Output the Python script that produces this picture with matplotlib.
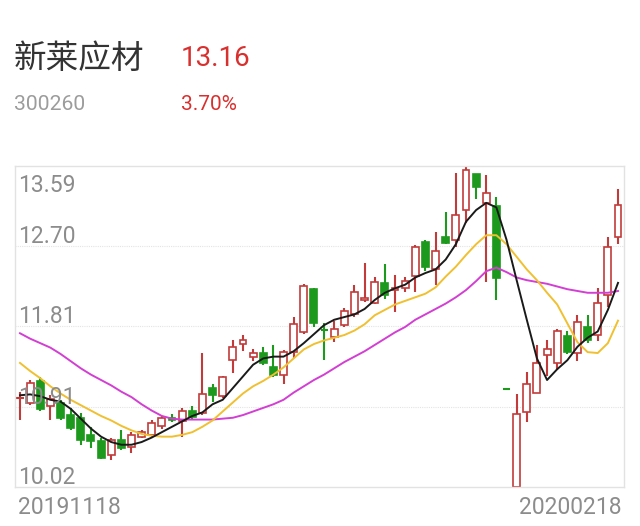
import matplotlib
matplotlib.use('Agg')
import matplotlib.pyplot as plt
import numpy as np

# daily K-line, 20191118 .. 20200218 (60 trading days)
opens = [11.00, 10.95, 11.20, 10.92, 10.95, 10.82, 10.79, 10.60, 10.53, 10.38,
         10.54, 10.46, 10.58, 10.60, 10.70, 10.79, 10.75, 10.86, 10.84, 11.12,
         11.03, 11.43, 11.61, 11.47, 11.51, 11.35, 11.27, 11.52, 11.74, 12.22,
         11.78, 11.69, 11.82, 11.94, 12.10, 12.07, 12.29, 12.21, 12.23, 12.37,
         12.75, 12.44, 12.80, 12.77, 13.10, 13.50, 13.18, 13.15, 11.11, 10.02,
         10.85, 11.07, 11.49, 11.40, 11.70, 11.51, 11.80, 11.71, 12.16, 12.80]
highs = [11.08, 11.21, 11.24, 11.04, 10.99, 10.90, 10.84, 10.69, 10.56, 10.56,
         10.65, 10.63, 10.65, 10.76, 10.81, 10.83, 10.90, 10.92, 11.51, 11.16,
         11.26, 11.65, 11.71, 11.56, 11.58, 11.60, 11.54, 11.91, 12.28, 12.23,
         11.84, 11.87, 12.01, 12.27, 12.51, 12.36, 12.50, 12.38, 12.35, 12.71,
         12.77, 12.86, 13.08, 13.51, 13.60, 13.50, 13.49, 13.25, 11.11, 11.05,
         11.30, 11.60, 11.65, 11.78, 11.75, 11.93, 11.93, 12.23, 12.80, 13.33]
lows = [10.76, 10.93, 10.87, 10.76, 10.77, 10.65, 10.49, 10.45, 10.33, 10.32,
        10.43, 10.40, 10.56, 10.58, 10.66, 10.74, 10.58, 10.78, 10.82, 10.97,
        11.01, 11.29, 11.53, 11.42, 11.38, 11.24, 11.16, 11.45, 11.72, 11.80,
        11.43, 11.63, 11.80, 11.91, 12.08, 12.05, 12.11, 11.97, 12.19, 12.19,
        12.42, 12.27, 12.72, 12.69, 12.96, 13.22, 12.30, 12.10, 11.11, 10.02,
        10.74, 11.06, 11.25, 11.32, 11.50, 11.42, 11.62, 11.64, 12.02, 12.72]
closes = [11.01, 11.18, 10.89, 11.00, 10.79, 10.68, 10.54, 10.53, 10.34, 10.54,
          10.45, 10.60, 10.63, 10.73, 10.79, 10.76, 10.87, 10.80, 11.05, 11.04,
          11.24, 11.58, 11.66, 11.51, 11.40, 11.27, 11.52, 11.83, 12.26, 11.84,
          11.77, 11.78, 11.98, 12.19, 12.12, 12.30, 12.16, 12.23, 12.31, 12.69,
          12.47, 12.64, 12.73, 13.05, 13.55, 13.36, 13.29, 12.34, 11.11, 10.83,
          11.17, 11.40, 11.55, 11.75, 11.52, 11.86, 11.66, 12.07, 12.69, 13.16]

# moving averages as drawn on the chart
ma5 = [11.04, 11.05, 11.03, 10.99, 10.97, 10.89, 10.78, 10.67, 10.58, 10.52,
       10.49, 10.49, 10.52, 10.57, 10.63, 10.69, 10.75, 10.81, 10.85, 10.94,
       10.99, 11.12, 11.25, 11.38, 11.45, 11.47, 11.47, 11.53, 11.62, 11.72,
       11.82, 11.88, 11.91, 11.94, 12.00, 12.10, 12.18, 12.23, 12.27, 12.35,
       12.40, 12.44, 12.55, 12.72, 12.97, 13.10, 13.18, 13.13, 12.77, 12.32,
       11.88, 11.45, 11.21, 11.33, 11.43, 11.58, 11.68, 11.75, 11.99, 12.29]
ma10 = [11.40, 11.31, 11.23, 11.14, 11.06, 10.99, 10.93, 10.87, 10.81, 10.76,
        10.70, 10.65, 10.61, 10.59, 10.58, 10.58, 10.60, 10.63, 10.69, 10.76,
        10.86, 10.96, 11.06, 11.14, 11.20, 11.27, 11.35, 11.45, 11.55, 11.61,
        11.65, 11.68, 11.71, 11.76, 11.83, 11.93, 11.99, 12.05, 12.09, 12.13,
        12.17, 12.24, 12.36, 12.47, 12.60, 12.72, 12.82, 12.82, 12.72, 12.58,
        12.44, 12.32, 12.18, 12.05, 11.84, 11.63, 11.52, 11.51, 11.62, 11.87]
ma20 = [11.73, 11.67, 11.62, 11.57, 11.50, 11.42, 11.34, 11.27, 11.21, 11.15,
        11.08, 11.02, 10.94, 10.87, 10.81, 10.78, 10.77, 10.77, 10.77, 10.77,
        10.78, 10.79, 10.82, 10.86, 10.90, 10.94, 10.99, 11.07, 11.14, 11.21,
        11.27, 11.34, 11.41, 11.47, 11.53, 11.60, 11.67, 11.74, 11.80, 11.88,
        11.94, 12.00, 12.06, 12.13, 12.21, 12.31, 12.42, 12.46, 12.41, 12.35,
        12.32, 12.30, 12.28, 12.25, 12.22, 12.20, 12.18, 12.18, 12.18, 12.20]

y_ticks = [13.59, 12.70, 11.81, 10.91, 10.02]
date_labels = ['20191118', '20200218']
name = '新莱应材'
code = '300260'
price = '13.16'
change = '3.70%'

RED = '#c23b3b'
GREEN = '#1d9a1d'
GRAY = '#8c8c8c'

plt.rcParams['font.family'] = ['Roboto', 'DejaVu Sans']

fig = plt.figure(figsize=(6.4, 5.26), dpi=100)
ax = fig.add_axes([15/640, 39/526, 609/640, 321/526])

n = len(closes)
x = np.arange(n)
for i in x:
    o, h, l, c = opens[i], highs[i], lows[i], closes[i]
    prev = closes[i-1] if i > 0 else o
    up = c > o or (c == o and c >= prev)
    col = RED if up else GREEN
    top, bot = max(o, c), min(o, c)
    if top - bot < 0.01:
        ax.vlines(i, l, h, color=col, lw=1.5, zorder=2)
        ax.hlines(c, i - 0.35, i + 0.35, color=col, lw=1.5, zorder=2)
        continue
    ax.vlines(i, top, h, color=col, lw=1.5, zorder=2)
    ax.vlines(i, l, bot, color=col, lw=1.5, zorder=2)
    ax.bar(i, top - bot, bottom=bot, width=0.68,
           facecolor='white' if up else col, edgecolor=col, lw=1.2, zorder=2)

ax.plot(x, ma20, color='#d23fd2', lw=1.4, zorder=3)
ax.plot(x, ma10, color='#f0c030', lw=1.4, zorder=3)
ax.plot(x, ma5, color='#1a1a1a', lw=1.4, zorder=4)

ax.set_xlim(-0.49, 59.59)
ax.set_ylim(10.02, 13.59)
for v in y_ticks[1:4]:
    ax.axhline(v, color='#e4e4e4', lw=0.8, ls=(0, (1, 1)), zorder=1)
for s in ax.spines.values():
    s.set_color('#e2e2e2')
    s.set_linewidth(1.0)
ax.set_xticks([])
ax.set_yticks([])

for v in y_ticks:
    dy = -26 if v == y_ticks[0] else 3
    ax.annotate('%.2f' % v, xy=(0, v), xycoords=('axes fraction', 'data'),
                xytext=(3, dy), textcoords='offset pixels', va='baseline',
                ha='left', color=GRAY, fontsize=16.5, zorder=5)

fig.text(18/640, 1 - 508/526, date_labels[0], color=GRAY, fontsize=16.5,
         ha='left', va='center')
fig.text(622/640, 1 - 508/526, date_labels[1], color=GRAY, fontsize=16.5,
         ha='right', va='center')

# header
fig.text(14/640, 1 - 59/526, name, color='#333333', fontsize=23.5,
         family=['Noto Sans CJK SC', 'DejaVu Sans'], ha='left', va='center')
fig.text(181/640, 1 - 59/526, price, color='#d8302e', fontsize=20,
         ha='left', va='center')
fig.text(14/640, 1 - 104/526, code, color='#9c9c9c', fontsize=15.2,
         ha='left', va='center')
fig.text(181/640, 1 - 104/526, change, color='#d8302e', fontsize=15,
         ha='left', va='center')

fig.savefig('out.png', dpi=100, facecolor='white')
